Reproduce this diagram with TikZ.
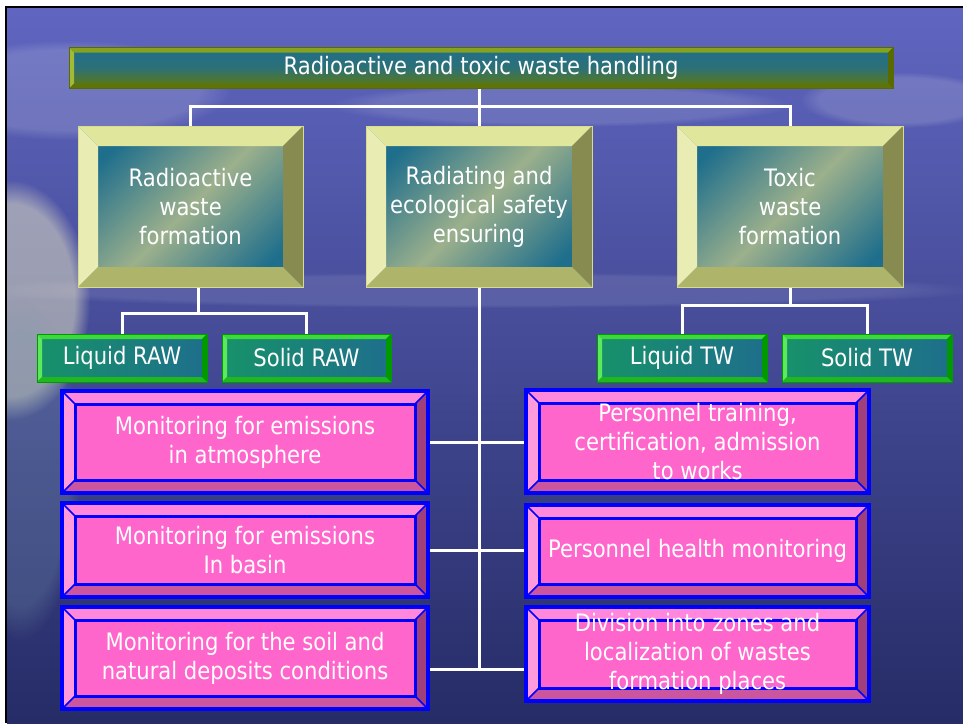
\documentclass[tikz,border=0pt]{standalone}
\usepackage{fontspec}
\setmainfont{DejaVu Sans}[FakeStretch=0.88]
\usetikzlibrary{fadings}
\pgfdeclarelayer{sky}
\pgfdeclarelayer{wires}
\pgfsetlayers{sky,wires,main}

\definecolor{skytop}{HTML}{6066C0}
\definecolor{skymid}{HTML}{4751B2}
\definecolor{seabot}{HTML}{262C66}
\definecolor{faceteal}{HTML}{1E6E8C}
\definecolor{facelight}{HTML}{9CB08C}
\definecolor{olivetop}{HTML}{E0E69C}
\definecolor{oliveleft}{HTML}{E9EDB3}
\definecolor{oliveright}{HTML}{878B4F}
\definecolor{olivebot}{HTML}{AFB46B}
\definecolor{olivelight}{HTML}{D8DC8E}
\definecolor{bartop}{HTML}{86A21E}
\definecolor{barleft}{HTML}{A2BA36}
\definecolor{barright}{HTML}{586A00}
\definecolor{barbot}{HTML}{5E7408}
\definecolor{greentop}{HTML}{3CD83C}
\definecolor{greenleft}{HTML}{5CEA5C}
\definecolor{greenright}{HTML}{009A00}
\definecolor{greenbot}{HTML}{1FB81F}
\definecolor{pinkface}{HTML}{FF66CC}
\definecolor{pinktop}{HTML}{FF88DD}
\definecolor{pinkleft}{HTML}{FF9ADD}
\definecolor{pinkright}{HTML}{A0407A}
\definecolor{pinkbot}{HTML}{CC55A0}

% four bevel faces inside a node (width, top, left, right, bottom)
\newcommand{\bevelfaces}[5]{%
  \coordinate (bNW) at (path picture bounding box.north west);
  \coordinate (bNE) at (path picture bounding box.north east);
  \coordinate (bSW) at (path picture bounding box.south west);
  \coordinate (bSE) at (path picture bounding box.south east);
  \fill[#2] (bNW) -- (bNE) -- ([shift={(-#1,-#1)}]bNE) -- ([shift={(#1,-#1)}]bNW) -- cycle;
  \fill[#3] (bNW) -- ([shift={(#1,-#1)}]bNW) -- ([shift={(#1,#1)}]bSW) -- (bSW) -- cycle;
  \fill[#4] (bNE) -- (bSE) -- ([shift={(-#1,#1)}]bSE) -- ([shift={(-#1,-#1)}]bNE) -- cycle;
  \fill[#5] (bSW) -- (bSE) -- ([shift={(-#1,#1)}]bSE) -- ([shift={(#1,#1)}]bSW) -- cycle;
}

\tikzset{
  titlebar/.style={top color=faceteal, bottom color=olive!70!faceteal, middle color=faceteal!85!olive,
    draw=barright, line width=.8pt,
    path picture={\bevelfaces{5pt}{bartop}{barleft}{barright}{barbot}}},
  olivebox/.style={top color=faceteal, bottom color=faceteal, middle color=facelight, shading angle=45,
    draw=olivelight, line width=.8pt,
    path picture={\bevelfaces{20pt}{olivetop}{oliveleft}{oliveright}{olivebot}}},
  greenbox/.style={left color=faceteal!75!green, right color=faceteal, draw=greenright, line width=.8pt,
    path picture={\bevelfaces{5pt}{greentop}{greenleft}{greenright}{greenbot}}},
  pinkbox/.style={fill=pinkface, draw=blue, line width=4pt,
    path picture={\bevelfaces{13pt}{pinktop}{pinkleft}{pinkright}{pinkbot}
      \draw[blue,line width=1.5pt] (bNW) -- ++(13pt,-13pt) (bNE) -- ++(-13pt,-13pt)
        (bSW) -- ++(13pt,13pt) (bSE) -- ++(-13pt,13pt);
      \draw[blue,line width=3pt] ([shift={(13pt,-13pt)}]bNW) rectangle ([shift={(-13pt,13pt)}]bSE);}},
  cloud/.style={path fading=circle with fuzzy edge 20 percent},
  wire/.style={white,line width=3pt}
}

\begin{document}
\begin{tikzpicture}
[x=1pt,y=-1pt,every node/.style={text=white,align=center,inner sep=0pt,font=\fontsize{24}{29}\selectfont}]
  \useasboundingbox (0,0) rectangle (963,723);

  \begin{pgfonlayer}{sky}
    \fill[white] (0,0) rectangle (963,723);
    \fill[black] (5,6) rectangle (963,723);
    \shade[top color=skytop, middle color=skymid, bottom color=seabot] (7,8) rectangle (963,723);
    \begin{scope}
      \clip (7,8) rectangle (963,723);
      \fill[white,opacity=.15,cloud] (70,90) ellipse (160pt and 50pt);
      \fill[white,opacity=.12,cloud] (560,105) ellipse (230pt and 22pt);
      \fill[white,opacity=.15,cloud] (900,100) ellipse (100pt and 28pt);
      \fill[white,opacity=.1,cloud] (480,290) ellipse (500pt and 18pt);
      \fill[yellow!20,opacity=.45,cloud] (10,300) ellipse (80pt and 120pt);
      \fill[cyan!30!gray,opacity=.25,cloud] (20,470) ellipse (60pt and 170pt);
    \end{scope}
  \end{pgfonlayer}

  \node[titlebar,minimum width=824pt,minimum height=41pt] (top) at (481,68) {Radioactive and toxic waste handling};

  \node[olivebox,minimum width=225pt,minimum height=161pt] (ra) at (190.5,206.5) {Radioactive\\waste\\formation};
  \node[olivebox,minimum width=226pt,minimum height=161pt] (rs) at (479,206.5) {Radiating and\\ecological safety\\ensuring};
  \node[olivebox,minimum width=226pt,minimum height=161pt] (ta) at (790,206.5) {Toxic\\waste\\formation};

  \node[greenbox,minimum width=170pt,minimum height=48pt] (lraw) at (122,358) {Liquid RAW};
  \node[greenbox,minimum width=169pt,minimum height=48pt] (sraw) at (306.5,358) {Solid RAW};
  \node[greenbox,minimum width=170pt,minimum height=48pt] (ltw) at (682,358) {Liquid TW};
  \node[greenbox,minimum width=170pt,minimum height=48pt] (stw) at (867,358) {Solid TW};

  \node[pinkbox,minimum width=366pt,minimum height=102pt] (m1) at (245,442) {Monitoring for emissions\\in atmosphere};
  \node[pinkbox,minimum width=366pt,minimum height=94pt] (m2) at (245,550) {Monitoring for emissions\\In basin};
  \node[pinkbox,minimum width=366pt,minimum height=102pt] (m3) at (245,658) {Monitoring for the soil and\\natural deposits conditions};
  \node[pinkbox,minimum width=343pt,minimum height=103pt] (p1) at (697.5,441.5) {Personnel training,\\certification, admission\\to works};
  \node[pinkbox,minimum width=343pt,minimum height=92pt] (p2) at (697.5,551) {Personnel health monitoring};
  \node[pinkbox,minimum width=343pt,minimum height=94pt] (p3) at (697.5,654) {Division into zones and\\localization of wastes\\formation places};

  \coordinate (hubT) at (479,106);
  \coordinate (hubL) at (198,313);
  \coordinate (hubR) at (790,305);
  \coordinate (hubB) at (479,669);

  \begin{pgfonlayer}{wires}
    \draw[wire] (top.south -| hubT) -- (hubB);
    \draw[wire] (ra.north) |- (hubT) -| (ta.north);
    \draw[wire] (ra.south -| hubL) -- (hubL);
    \draw[wire] (lraw.north) |- (hubL) -| (sraw.north);
    \draw[wire] (ta.south) -- (hubR);
    \draw[wire] (ltw.north) |- (hubR) -| (stw.north);
    \foreach \from/\to in {m1/p1,m2/p2}
      \draw[wire] (\from.east) -- (\from.east -| \to.west);
    \draw[wire] (m3.east |- hubB) -- (p3.west |- hubB);
  \end{pgfonlayer}
\end{tikzpicture}
\end{document}
